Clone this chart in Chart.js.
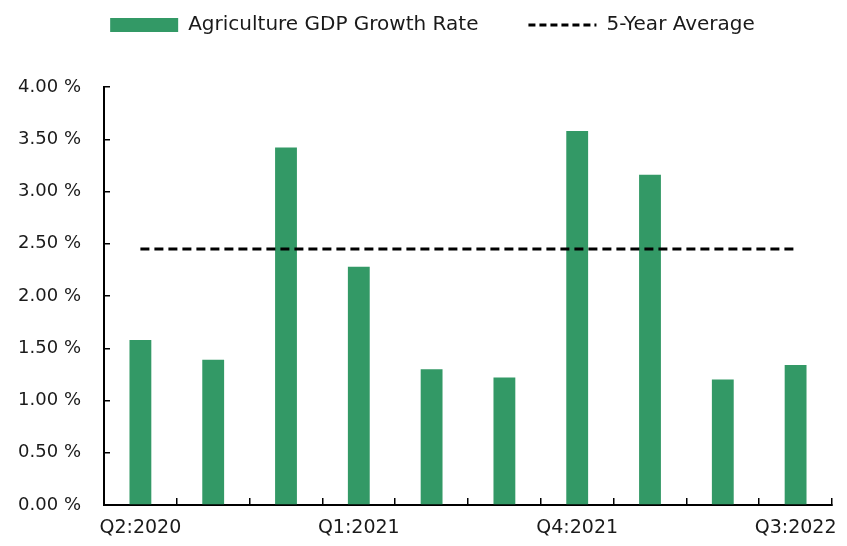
<!DOCTYPE html>
<html>
<head>
    <title>Agriculture GDP Growth</title>
    <script src="https://cdn.jsdelivr.net/npm/chart.js"></script>
    <style>
        body { margin: 0; background: #fff; }
        #wrap { width: 847px; height: 546px; }
    </style>
</head>
<body>
    <div id="wrap"><canvas id="myChart"></canvas></div>
    <script>
const quarters = ['Q2:2020', 'Q3:2020', 'Q4:2020', 'Q1:2021', 'Q2:2021', 'Q3:2021', 'Q4:2021', 'Q1:2022', 'Q2:2022', 'Q3:2022'];
const growthRate = [1.58, 1.39, 3.42, 2.28, 1.30, 1.22, 3.58, 3.16, 1.20, 1.34];
const fiveYearAvg = [2.45, 2.45, 2.45, 2.45, 2.45, 2.45, 2.45, 2.45, 2.45, 2.45];
const yTicks = ['0.00 %', '0.50 %', '1.00 %', '1.50 %', '2.00 %', '2.50 %', '3.00 %', '3.50 %', '4.00 %'];

const fontFamily = "'DejaVu Sans', sans-serif";
const ctx = document.getElementById('myChart').getContext('2d');

// legend sits high with wide spacing between items, so fix its height here
const legendHeight = {
    id: 'legendHeight',
    beforeInit(chart) {
        const fit = chart.legend.fit;
        chart.legend.fit = function () {
            fit.bind(chart.legend)();
            this.height = 122;
        };
    }
};

const chart = new Chart(ctx, {
    type: 'bar',
    data: {
        labels: quarters,
        datasets: [{
            label: 'Agriculture GDP Growth Rate',
            data: growthRate,
            backgroundColor: '#339966',
            borderWidth: 0,
            barPercentage: 0.6,
            categoryPercentage: 0.5,
            pointStyle: 'rect',
            order: 2
        }, {
            type: 'line',
            label: '5-Year Average',
            data: fiveYearAvg,
            borderColor: '#000',
            backgroundColor: '#000',
            borderWidth: 3,
            borderDash: [9, 5],
            pointRadius: 0,
            pointStyle: 'line',
            order: 1
        }]
    },
    options: {
        responsive: true,
        maintainAspectRatio: false,
        animation: false,
        layout: { padding: { top: -35, right: 0, left: 18, bottom: 7 } },
        plugins: {
            tooltip: { enabled: false },
            legend: {
                position: 'top',
                labels: {
                    usePointStyle: true,
                    pointStyleWidth: 68,
                    boxHeight: 14,
                    padding: 50,
                    color: '#1a1a1a',
                    font: { family: fontFamily, size: 20 },
                    sort: (a, b) => a.datasetIndex - b.datasetIndex,
                    generateLabels(chart) {
                        const items = Chart.defaults.plugins.legend.labels.generateLabels(chart);
                        items.forEach(item => {
                            if (item.datasetIndex === 1) {
                                item.lineDash = [7, 4];
                                item.lineWidth = 3;
                                item.strokeStyle = '#000';
                            }
                        });
                        return items;
                    }
                }
            }
        },
        scales: {
            x: {
                afterFit(scale) {
                    scale.height = 34;
                    scale.paddingRight = 15;
                },
                grid: { drawOnChartArea: false, offset: true, tickLength: -7, color: '#000', lineWidth: 1.5 },
                border: { color: '#000', width: 2 },
                ticks: {
                    autoSkip: false,
                    maxRotation: 0,
                    padding: 19,
                    color: '#1a1a1a',
                    font: { family: fontFamily, size: 19 },
                    callback: (v, i) => i % 3 === 0 ? quarters[i] : ''
                }
            },
            y: {
                min: 0,
                max: 4,
                afterFit(scale) { scale.width = 86; },
                grid: { drawOnChartArea: false, tickLength: -6, color: '#000', lineWidth: 1.5 },
                border: { color: '#000', width: 2 },
                ticks: {
                    stepSize: 0.5,
                    padding: 29,
                    color: '#1a1a1a',
                    font: { family: fontFamily, size: 18 },
                    callback: (v, i) => yTicks[i]
                }
            }
        }
    },
    plugins: [legendHeight]
});
    </script>
</body>
</html>
